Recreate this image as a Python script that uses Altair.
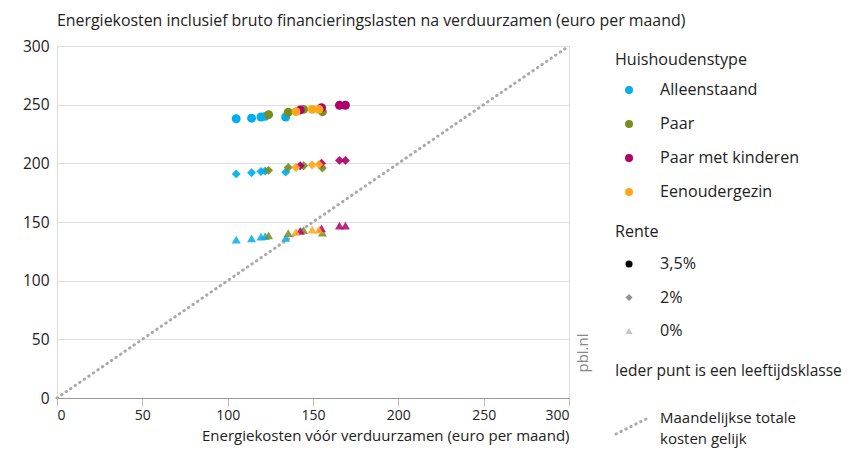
import altair as alt
import pandas as pd

FONT = "Open Sans"
TEXT = "#222222"

# ---- data ----
types = ["Alleenstaand", "Paar", "Paar met kinderen", "Eenoudergezin"]
colors = ["#00adef", "#7a8c1e", "#b0006a", "#ffa61a"]
rentes = ["3,5%", "2%", "0%"]
shapes = ["circle", "diamond", "triangle-up"]

alleen_x = [105, 114, 119.5, 122, 134]
alleen_35 = [238, 238.5, 239.5, 240, 239.5]
alleen_2 = [191, 192, 193, 193.5, 192.5]
alleen_0 = [135, 136, 137.5, 138, 136.5]

paar_x = [124, 135.5, 144.5, 155.5]
paar_35 = [241.5, 243.5, 246, 244]
paar_2 = [194, 196.5, 198, 196]
paar_0 = [138.5, 140.5, 143, 141]

kind_x = [142.5, 155, 165.5, 169]
kind_35 = [245.5, 247.5, 249.5, 249.5]
kind_2 = [198, 200, 202.5, 202.5]
kind_0 = [142.5, 144.5, 147, 147]

eenouder_x = [140, 149.5, 153.5]
eenouder_35 = [244, 246, 246]
eenouder_2 = [196.5, 198.5, 199]
eenouder_0 = [141.5, 143.5, 143.5]

diag_x = [0, 300]
diag_y = [0, 300]

series = [
    ("Alleenstaand", alleen_x, [alleen_35, alleen_2, alleen_0]),
    ("Paar", paar_x, [paar_35, paar_2, paar_0]),
    ("Paar met kinderen", kind_x, [kind_35, kind_2, kind_0]),
    ("Eenoudergezin", eenouder_x, [eenouder_35, eenouder_2, eenouder_0]),
]
rows = []
for ri in [2, 1, 0]:
    for name, xs, ys in series:
        for xv, yv in zip(xs, ys[ri]):
            rows.append({"type": name, "rente": rentes[ri], "x": xv, "y": yv})
df = pd.DataFrame(rows)

xscale = alt.Scale(domain=[0, 300], nice=False)
yscale = alt.Scale(domain=[0, 300], nice=False)

diag = alt.Chart(pd.DataFrame({"x": diag_x, "y": diag_y})).mark_line(
    color="#aaaaaa", strokeWidth=3, strokeDash=[0.5, 5], strokeCap="round"
).encode(
    x=alt.X("x:Q", scale=xscale,
            axis=alt.Axis(values=[0, 50, 100, 150, 200, 250, 300], grid=False,
                          domainColor="#999999", tickColor="#bbbbbb", tickSize=8,
                          labelPadding=2, labelFont=FONT, labelFontSize=14,
                          labelColor=TEXT, title="Energiekosten vóór verduurzamen (euro per maand)",
                          titleFont=FONT, titleFontSize=15, titleFontWeight="normal",
                          titleColor=TEXT, titleAnchor="end", titlePadding=6)),
    y=alt.Y("y:Q", scale=yscale,
            axis=alt.Axis(values=[0, 50, 100, 150, 200, 250, 300], grid=True,
                          gridColor="#dddddd", domain=False, ticks=False,
                          labelPadding=8, labelFont=FONT, labelFontSize=15.5,
                          labelColor=TEXT, title=None)),
)

fill_expr = "datum.value === '3,5%' ? '#000000' : (datum.value === '2%' ? '#888888' : '#bbbbbb')"

points = alt.Chart(df).mark_point(filled=True, size=80).encode(
    x=alt.X("x:Q", scale=xscale),
    y=alt.Y("y:Q", scale=yscale),
    color=alt.Color("type:N", scale=alt.Scale(domain=types, range=colors),
                    legend=alt.Legend(orient="none", legendX=564, legendY=36, title=None,
                                      symbolType="circle", symbolSize=64,
                                      labelFont=FONT, labelFontSize=16.1, labelColor=TEXT,
                                      labelOffset=23, rowPadding=17,
                                      symbolOpacity=1)),
    shape=alt.Shape("rente:N", scale=alt.Scale(domain=rentes, range=shapes),
                    legend=alt.Legend(orient="none", legendX=564, legendY=210, title=None,
                                      symbolSize=50, symbolOpacity=1,
                                      symbolFillColor=alt.ExprRef(fill_expr),
                                      symbolStrokeWidth=0,
                                      labelFont=FONT, labelFontSize=16.1, labelColor=TEXT,
                                      labelOffset=23, rowPadding=16.5)),
    opacity=alt.Opacity("rente:N", scale=alt.Scale(domain=rentes, range=[1, 0.85, 0.6]),
                        legend=None),
)

ann = pd.DataFrame({
    "t": ["Energiekosten inclusief bruto financieringslasten na verduurzamen (euro per maand)",
          "Huishoudenstype", "Rente", "Ieder punt is een leeftijdsklasse",
          "Maandelijkse totale", "kosten gelijk"],
    "px": [0, 558, 558, 558, 603, 603],
    "py": [-25, 14, 186, 325, 372, 393],
    "fs": [15.9, 16.1, 16.1, 15.5, 15, 15],
})
texts = alt.Chart(ann).mark_text(align="left", baseline="middle", font=FONT,
                                 color=TEXT).encode(
    x=alt.X("px:Q", scale=None), y=alt.Y("py:Q", scale=None), text="t:N",
    size=alt.Size("fs:Q", scale=None, legend=None))

pbl = alt.Chart(pd.DataFrame({"t": ["pbl.nl"]})).mark_text(
    angle=270, font=FONT, fontSize=15, color="#888888", baseline="middle", align="center"
).encode(x=alt.value(526), y=alt.value(307), text="t:N")

legline = alt.Chart(pd.DataFrame({"a": [0]})).mark_rule(
    color="#aaaaaa", strokeWidth=3, strokeDash=[0.5, 5], strokeCap="round"
).encode(x=alt.value(559), x2=alt.value(589), y=alt.value(388), y2=alt.value(373))

chart = alt.layer(diag, points, texts, pbl, legline).properties(
    width=512, height=352,
    autosize=alt.AutoSizeParams(type="none"),
    padding={"left": 49, "top": 38, "right": 275, "bottom": 51},
).configure_view(stroke=None).configure(font=FONT)

chart.save("out.html", embed_options={"renderer": "svg", "actions": False})
